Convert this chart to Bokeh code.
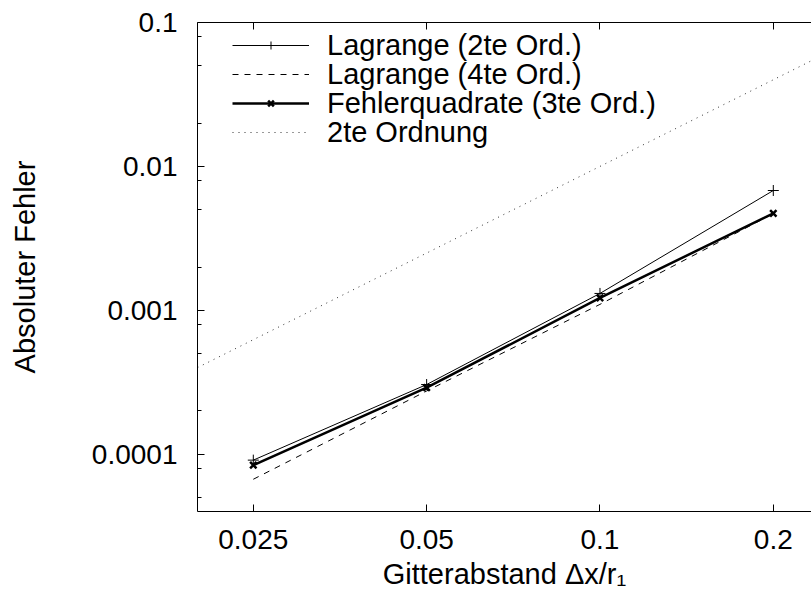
from bokeh.plotting import figure
from bokeh.models import Range1d, FixedTicker, LogAxis, CustomJSTickFormatter, Legend, LegendItem
from bokeh.embed import file_html
from bokeh.resources import INLINE

# ---- data ----
dx = [0.025, 0.05, 0.1, 0.2]
lagrange2 = [9.1e-5, 3.05e-4, 1.31e-3, 6.8e-3]
lagrange4 = [6.7e-5, 2.75e-4, 1.1e-3, 4.7e-3]
fehlerquadrate = [8.4e-5, 2.9e-4, 1.22e-3, 4.72e-3]
order2_x = [0.02, 0.25]
order2_y = [4.0e-4, 6.25e-2]

x_ticks = [0.025, 0.05, 0.1, 0.2]
y_ticks = [0.0001, 0.001, 0.01, 0.1]
y_minor = [5e-5, 8e-5, 2e-4, 5e-4, 8e-4, 2e-3, 5e-3, 8e-3, 2e-2, 5e-2, 8e-2]
legend_labels = ["Lagrange (2te Ord.)", "Lagrange (4te Ord.)",
                 "Fehlerquadrate (3te Ord.)", "2te Ordnung"]

FONT = "Liberation Sans"
FS = "28px"
FRAME_W, FRAME_H = 614, 489

p = figure(frame_width=FRAME_W, frame_height=FRAME_H,
           x_axis_type="log", y_axis_type="log",
           x_range=Range1d(0.02, 0.233), y_range=Range1d(4e-5, 0.1),
           output_backend="svg", toolbar_location=None,
           min_border_left=197, min_border_right=0,
           min_border_top=22, min_border_bottom=86)
p.grid.visible = False
p.outline_line_color = None
p.background_fill_color = "white"
p.border_fill_color = "white"

r_l2 = p.line(dx, lagrange2, line_color="black", line_width=1)
m_l2 = p.scatter(dx, lagrange2, marker="cross", size=11, line_color="black", line_width=1)
r_l4 = p.line(dx, lagrange4, line_color="black", line_width=1, line_dash="6 6")
r_fq = p.line(dx, fehlerquadrate, line_color="black", line_width=2.5)
m_fq = p.scatter(dx, fehlerquadrate, marker="x", size=9, line_color="black", line_width=2.5)
r_o2 = p.line(order2_x, order2_y, line_color="#333333", line_width=1, line_dash="1 5")

fmt = "return tick.toString();"

xa = p.xaxis[0]
xa.ticker = FixedTicker(ticks=x_ticks, minor_ticks=[])
xa.formatter = CustomJSTickFormatter(code=fmt)
xa.axis_label = "Gitterabstand \u0394x/r\u2081"
xa.major_label_standoff = 18
xa.axis_label_standoff = 6

ya = p.yaxis[0]
ya.ticker = FixedTicker(ticks=y_ticks, minor_ticks=y_minor)
ya.formatter = CustomJSTickFormatter(code=fmt)
ya.axis_label = "Absoluter Fehler"
ya.major_label_standoff = 20
ya.axis_label_standoff = 48

# mirrored top border with tick marks only (drawn as unlabeled minor ticks)
top = LogAxis(ticker=FixedTicker(ticks=[], minor_ticks=x_ticks),
              major_label_standoff=0)
p.add_layout(top, "above")

for ax in [xa, ya, top]:
    ax.axis_line_color = "black"
    ax.axis_line_width = 1
    ax.major_tick_line_color = "black"
    ax.minor_tick_line_color = "black"
    ax.major_tick_in = 7
    ax.major_tick_out = 0
    ax.minor_tick_in = 4
    ax.minor_tick_out = 0
    ax.major_label_text_color = "black"
    ax.major_label_text_font = FONT
    ax.axis_label_text_font = FONT
    ax.axis_label_text_font_size = "29px"
    ax.axis_label_text_font_style = "normal"
    ax.axis_label_text_color = "black"
top.minor_tick_in = 7
xa.major_label_text_font_size = FS
ya.major_label_text_font_size = FS

# one legend box per entry, so the entry pitch can follow the reference (29 px)
entry_renderers = [[r_l2, m_l2], [r_l4], [r_fq, m_fq], [r_o2]]
ITEM_H = 33
for i, (lab, rends) in enumerate(zip(legend_labels, entry_renderers)):
    center = 23 + 29 * i            # px below the frame top
    lg = Legend(items=[LegendItem(label=lab, renderers=rends)],
                location=(35, FRAME_H - center - ITEM_H / 2))
    lg.background_fill_alpha = 0
    lg.border_line_color = None
    lg.label_text_font = FONT
    lg.label_text_font_size = "29px"
    lg.label_text_color = "black"
    lg.glyph_width = 77
    lg.glyph_height = 20
    lg.label_height = 20
    lg.label_standoff = 18
    lg.spacing = 0
    lg.padding = 0
    lg.margin = 0
    p.add_layout(lg)

open("out.html", "w").write(file_html(p, INLINE))
